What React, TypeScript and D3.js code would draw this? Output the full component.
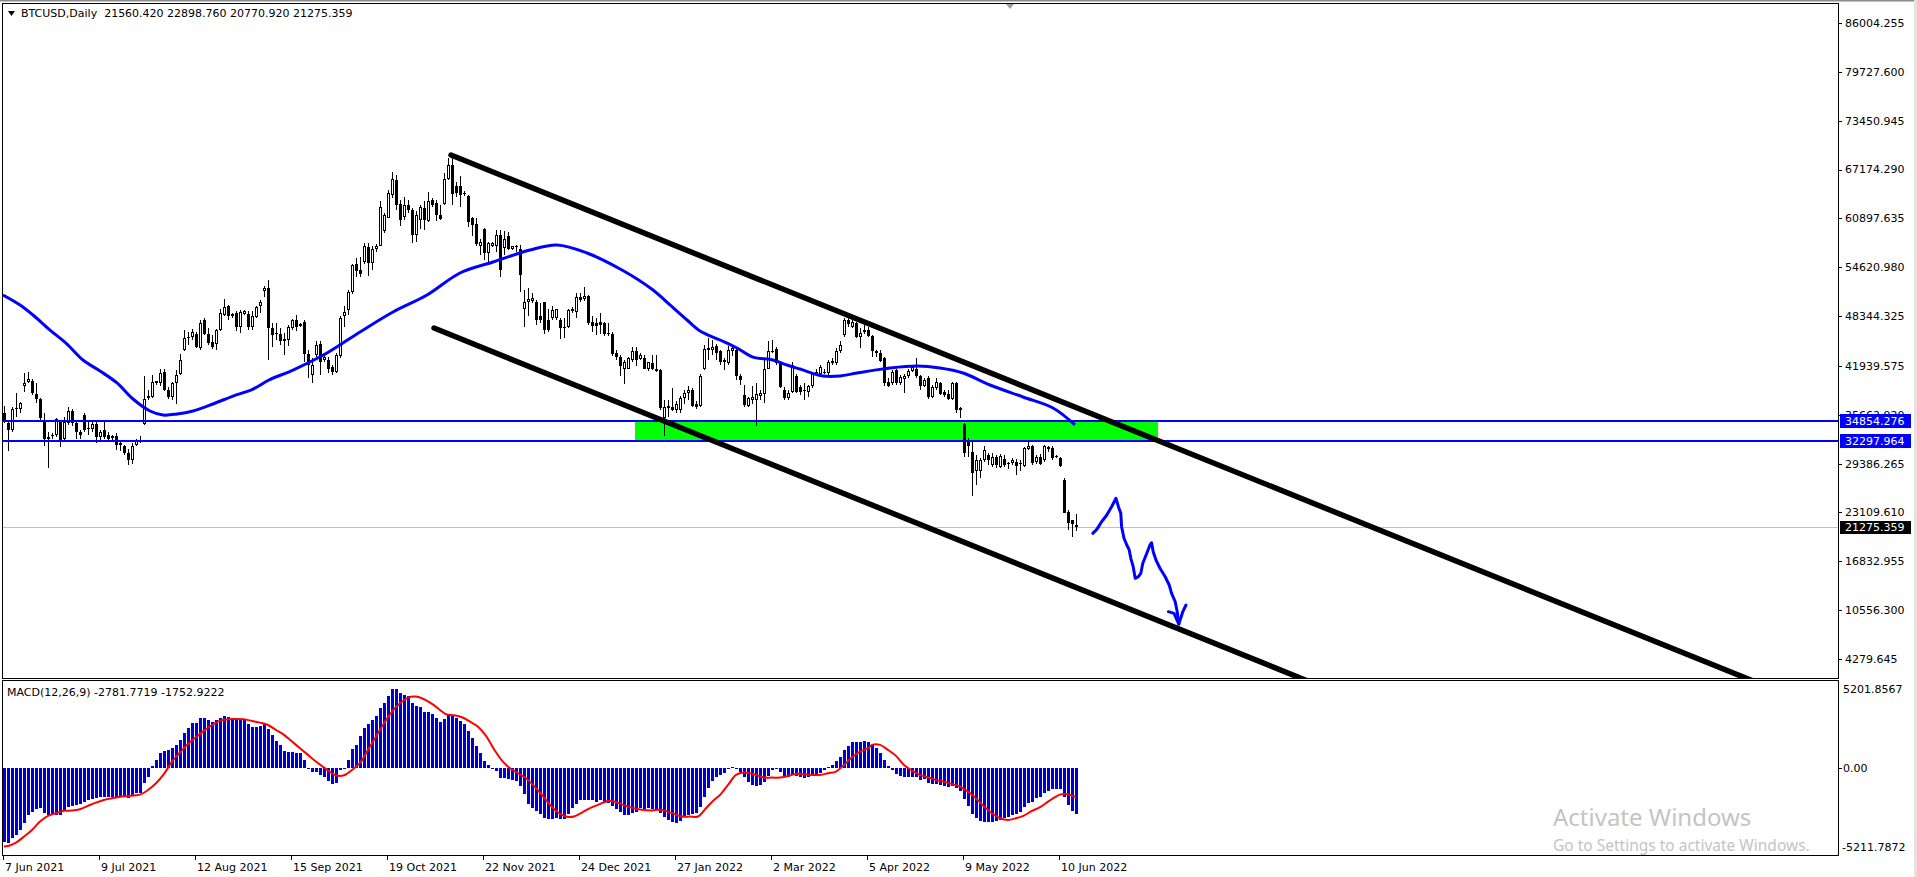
import React from 'react';
import * as d3 from 'd3';

const W = 1917;
const H = 877;

// daily candles (weekdays only) from 7 Jun 2021, prices in USD thousands
const opens = [
  35.95, 34.6, 33.7, 36.4, 36.4, 39.3, 39.9, 40.0, 38.3, 37.7,
  35.0, 32.6, 32.9, 33.1, 34.8, 32.5, 34.6, 36.2, 34.6, 33.5,
  35.6, 33.9, 33.8, 34.5, 32.8, 33.7, 33.1, 32.7, 32.9, 32.0,
  31.6, 30.7, 29.9, 31.8, 32.3, 34.5, 37.8, 38.0, 39.7, 39.7,
  41.1, 38.9, 38.0, 39.8, 40.9, 44.0, 45.5, 45.6, 46.0, 44.2,
  47.9, 46.1, 45.0, 44.7, 46.6, 48.5, 49.6, 48.3, 48.8, 47.0,
  48.6, 48.6, 46.9, 48.2, 49.6, 51.6, 51.9, 46.8, 46.2, 46.1,
  45.4, 45.3, 46.8, 47.9, 47.1, 47.6, 43.5, 40.8, 43.4, 44.8,
  42.7, 42.7, 41.8, 41.2, 43.2, 48.4, 49.1, 51.4, 55.0, 54.3,
  55.3, 57.2, 55.2, 56.9, 57.4, 59.3, 61.0, 63.9, 65.8, 62.8,
  61.1, 62.6, 62.0, 58.8, 60.7, 62.2, 60.5, 63.2, 62.9, 61.3,
  62.8, 66.0, 67.8, 65.0, 65.0, 64.2, 63.8, 60.9, 60.2, 57.3,
  59.5, 56.4, 57.4, 57.4, 58.8, 57.1, 58.6, 56.9, 57.3, 56.9,
  49.2, 50.1, 50.3, 50.1, 48.3, 50.1, 47.8, 48.1, 48.1, 47.8,
  47.0, 47.0, 49.0, 48.9, 50.8, 50.6, 50.9, 47.6, 47.4, 47.6,
  47.4, 46.2, 46.1, 43.6, 43.1, 41.6, 41.6, 42.7, 43.8, 42.8,
  42.9, 41.5, 42.3, 41.6, 41.4, 35.2, 36.5, 36.6, 36.3, 36.3,
  37.8, 38.4, 38.9, 37.1, 36.8, 41.5, 44.0, 44.0, 44.5, 43.8,
  42.7, 42.3, 43.9, 44.0, 40.7, 38.2, 36.8, 37.5, 37.5, 38.1,
  38.3, 41.6, 43.7, 44.1, 42.3, 38.9, 37.8, 38.6, 40.6, 39.2,
  38.8, 38.6, 39.3, 40.8, 40.9, 41.0, 41.0, 42.3, 42.3, 43.8,
  45.9, 47.9, 47.0, 47.4, 45.7, 46.3, 46.5, 45.8, 43.9, 43.65,
  42.9, 39.9, 39.7, 41.4, 39.8, 40.2, 40.6, 41.3, 41.5, 40.65,
  39.4, 40.35, 38.0, 39.1, 39.8, 38.6, 38.3, 37.7, 39.8, 36.5,
  34.5, 32.4, 30.9, 28.4, 28.5, 29.9, 30.5, 29.2, 30.3, 29.0,
  29.95, 29.5, 29.45, 29.65, 29.4, 29.1, 31.2, 31.6, 29.65, 30.3,
  29.8, 31.2, 31.4, 30.4, 30.1, 27.3, 23.2, 22.1, 21.56042,
];
const highs = [
  36.8, 34.8, 36.7, 38.4, 37.3, 41.0, 41.2, 40.3, 39.7, 37.8,
  35.9, 33.4, 33.3, 35.2, 35.0, 35.4, 36.7, 36.4, 34.7, 33.7,
  35.9, 35.0, 35.0, 34.7, 33.7, 34.8, 33.4, 33.0, 33.3, 32.4,
  31.8, 31.2, 32.0, 32.6, 32.9, 40.6, 38.9, 40.8, 40.0, 41.6,
  41.6, 39.2, 39.9, 41.4, 43.5, 46.6, 46.3, 46.7, 46.3, 47.9,
  48.1, 46.8, 45.9, 46.7, 49.3, 50.5, 49.8, 48.8, 49.0, 49.1,
  49.1, 49.0, 49.0, 49.6, 50.4, 52.2, 53.0, 47.5, 47.4, 46.8,
  46.2, 47.2, 48.0, 48.5, 47.5, 47.9, 44.0, 42.9, 45.1, 45.1,
  43.4, 43.1, 42.1, 43.6, 48.3, 49.6, 51.7, 55.1, 55.8, 56.0,
  57.7, 57.7, 57.3, 57.6, 63.1, 61.6, 64.5, 66.9, 66.5, 63.3,
  63.7, 63.3, 62.2, 61.8, 62.6, 63.1, 64.3, 63.5, 63.3, 62.6,
  66.7, 68.6, 69.0, 65.6, 66.4, 64.4, 63.9, 61.1, 60.9, 58.3,
  59.6, 57.9, 57.9, 59.4, 59.4, 59.3, 59.2, 57.4, 57.5, 57.5,
  51.7, 51.9, 51.3, 50.4, 50.0, 50.2, 49.3, 49.6, 49.3, 48.1,
  48.1, 49.3, 49.5, 51.3, 51.3, 52.1, 51.1, 48.3, 48.1, 48.7,
  47.6, 47.5, 46.3, 44.0, 43.4, 42.7, 43.1, 44.4, 44.4, 43.6,
  43.4, 42.5, 43.4, 43.4, 41.5, 37.6, 37.6, 39.1, 37.4, 38.1,
  38.9, 39.3, 39.1, 37.4, 40.9, 44.6, 45.5, 45.3, 44.8, 44.0,
  42.9, 44.5, 44.5, 44.2, 40.9, 39.5, 38.0, 39.3, 39.7, 38.9,
  42.7, 45.1, 45.3, 44.4, 42.5, 39.2, 38.9, 42.5, 40.9, 39.5,
  39.7, 39.5, 41.2, 41.6, 42.1, 41.5, 42.7, 42.9, 44.2, 45.1,
  48.1, 48.3, 48.1, 47.6, 46.8, 47.2, 47.0, 45.9, 44.0, 44.0,
  43.1, 40.35, 41.4, 41.6, 40.8, 40.9, 41.6, 42.1, 42.9, 40.8,
  40.35, 40.65, 39.5, 40.35, 39.9, 38.9, 38.85, 39.9, 39.9, 36.6,
  34.6, 32.65, 32.4, 30.5, 30.1, 31.6, 30.7, 30.7, 30.5, 30.6,
  30.5, 29.65, 30.1, 29.95, 29.9, 31.5, 32.2, 31.8, 30.5, 30.6,
  31.8, 31.6, 31.6, 30.5, 30.3, 27.5, 23.45, 22.2, 22.89876,
];
const lows = [
  34.6, 31.0, 33.5, 35.4, 35.9, 38.6, 39.7, 38.2, 37.2, 35.0,
  31.6, 28.8, 32.6, 32.8, 31.5, 32.4, 34.4, 34.2, 32.6, 32.5,
  33.5, 33.1, 33.5, 32.0, 32.2, 32.5, 32.1, 32.3, 31.1, 31.0,
  30.5, 29.2, 29.4, 31.6, 32.0, 34.4, 37.6, 37.8, 39.5, 39.3,
  38.7, 37.7, 37.6, 37.1, 40.8, 43.8, 44.6, 45.3, 44.2, 44.0,
  45.9, 44.6, 44.1, 44.0, 46.4, 48.3, 47.9, 48.1, 46.4, 46.2,
  48.5, 46.6, 46.6, 48.1, 48.7, 50.8, 42.7, 44.4, 45.3, 44.6,
  43.4, 44.5, 46.6, 46.4, 47.0, 42.4, 40.4, 39.7, 43.1, 40.8,
  42.4, 41.0, 40.8, 41.0, 43.0, 47.0, 48.5, 51.2, 53.4, 53.4,
  55.1, 53.5, 54.3, 56.6, 57.3, 59.0, 60.9, 63.5, 62.0, 59.9,
  60.7, 61.6, 57.7, 57.9, 59.5, 59.4, 60.4, 62.4, 60.5, 60.7,
  62.6, 65.8, 62.6, 63.7, 62.4, 63.8, 59.8, 58.6, 57.3, 56.2,
  55.6, 55.3, 57.2, 56.6, 53.4, 56.2, 56.8, 56.8, 56.6, 51.5,
  47.0, 48.3, 50.0, 47.2, 47.4, 46.1, 46.3, 47.8, 47.8, 45.4,
  45.5, 46.8, 48.7, 48.1, 50.2, 50.3, 47.2, 46.3, 45.9, 46.1,
  45.8, 45.8, 43.2, 42.7, 40.6, 39.6, 41.5, 42.5, 41.9, 42.7,
  41.5, 41.3, 41.4, 41.2, 36.3, 32.9, 35.4, 36.1, 35.9, 35.9,
  37.1, 37.6, 36.7, 36.4, 36.7, 41.4, 42.7, 43.4, 42.7, 42.1,
  41.4, 42.1, 43.2, 40.1, 39.5, 36.7, 36.6, 37.1, 34.2, 37.6,
  37.2, 41.5, 43.6, 42.0, 39.1, 37.6, 37.6, 38.4, 38.4, 38.2,
  37.6, 38.0, 39.1, 40.6, 40.8, 40.9, 40.8, 42.1, 42.1, 43.6,
  45.7, 47.0, 46.8, 45.5, 44.2, 46.1, 45.7, 43.1, 43.1, 42.4,
  39.4, 39.2, 39.5, 39.5, 39.5, 38.5, 40.35, 41.2, 40.35, 38.9,
  39.2, 37.7, 37.8, 38.9, 38.2, 38.0, 37.5, 37.6, 35.9, 35.2,
  30.3, 30.3, 25.2, 26.6, 27.5, 29.65, 29.2, 29.0, 28.8, 28.8,
  29.0, 28.7, 29.2, 27.9, 28.4, 29.0, 31.1, 29.2, 29.4, 29.2,
  29.65, 30.9, 29.9, 30.1, 29.0, 23.0, 20.9, 19.9, 20.77092,
];
const closes = [
  34.8, 33.7, 36.4, 36.5, 37.2, 39.8, 40.3, 38.4, 37.7, 35.3,
  32.6, 32.8, 33.1, 35.1, 32.1, 34.7, 36.1, 34.6, 33.4, 33.1,
  33.7, 34.0, 34.5, 32.8, 33.5, 32.8, 32.6, 32.9, 31.8, 31.8,
  30.7, 29.9, 31.7, 32.4, 32.4, 37.7, 38.1, 39.9, 40.0, 41.0,
  38.8, 38.0, 39.7, 40.8, 42.7, 45.5, 45.6, 46.3, 44.4, 47.5,
  46.1, 44.9, 44.4, 46.6, 48.7, 49.5, 48.3, 48.6, 46.9, 48.9,
  49.0, 46.9, 48.3, 49.5, 50.1, 51.9, 46.8, 45.9, 46.1, 45.1,
  45.1, 46.9, 47.9, 47.0, 47.3, 43.5, 42.1, 42.1, 44.6, 42.4,
  43.1, 41.6, 41.1, 43.4, 48.1, 48.9, 51.4, 54.9, 54.1, 53.8,
  57.3, 55.2, 56.9, 57.3, 62.3, 61.3, 64.2, 65.9, 62.6, 60.7,
  62.6, 62.0, 58.8, 61.3, 62.3, 60.7, 63.1, 62.6, 61.3, 60.8,
  66.0, 67.8, 64.0, 64.1, 63.9, 64.0, 60.4, 60.1, 57.6, 57.9,
  56.4, 57.7, 57.7, 58.8, 54.3, 58.3, 56.9, 57.3, 57.2, 53.6,
  50.2, 50.5, 50.7, 47.8, 47.8, 46.6, 46.6, 49.1, 49.2, 46.8,
  46.8, 49.1, 49.2, 50.8, 50.4, 50.9, 47.4, 47.1, 47.1, 47.2,
  46.1, 46.0, 43.5, 43.1, 41.9, 42.4, 42.9, 43.8, 42.7, 43.4,
  41.6, 42.4, 41.6, 41.3, 36.5, 36.7, 36.8, 36.3, 37.1, 37.8,
  38.4, 38.9, 36.8, 36.6, 40.6, 44.1, 44.2, 44.4, 43.6, 42.5,
  42.4, 44.0, 44.2, 40.6, 40.1, 36.9, 37.8, 38.0, 38.3, 38.4,
  41.6, 43.9, 43.9, 42.3, 39.2, 37.8, 38.4, 42.1, 38.6, 38.6,
  38.9, 39.4, 40.9, 41.2, 41.85, 41.2, 42.5, 42.6, 43.9, 44.6,
  47.9, 47.3, 47.6, 45.7, 46.2, 46.6, 45.8, 43.8, 43.65, 42.6,
  39.8, 39.4, 41.2, 39.7, 40.5, 40.65, 41.3, 41.85, 40.6, 39.4,
  40.1, 38.0, 39.2, 39.9, 38.3, 38.2, 37.7, 39.7, 36.3, 36.3,
  30.8, 31.6, 28.15, 29.8, 29.9, 31.1, 29.9, 30.3, 29.2, 30.4,
  29.2, 29.3, 29.8, 29.1, 29.5, 31.4, 31.6, 29.5, 30.3, 29.35,
  31.6, 31.5, 30.1, 30.3, 29.1, 23.1, 21.8, 21.65, 21.275359,
];

// blue moving average, read at these bar positions (USD thousands)
const maBars = [
  -0.25, 4, 7.25, 11.5, 15.75, 19.75, 24, 28.25, 32.25, 36.5, 39.75, 43.25, 47.25,
  52.25, 57.25, 62.25, 66.25, 72.25, 80.75, 89, 97.25, 105.75, 114, 122.25, 131.5,
  138.25, 145.75, 154.5, 162.25, 166.5, 170.75, 174, 179, 183.25, 187.25, 192.25,
  195.75, 199, 204.75, 209, 213.25, 221.5, 228.25, 234, 239.75, 246.5, 254.75,
  262.25, 267.75,
];
const maValues = [
  51.05, 49.77, 48.48, 46.55, 44.75, 42.7, 41.29, 39.75, 37.69, 36.15, 35.63, 35.76, 36.15,
  37.05, 38.07, 38.97, 40.13, 41.41, 43.6, 46.3, 48.87, 51.05, 53.88, 55.29, 56.83,
  57.48, 56.45, 54.26, 51.69, 49.77, 47.84, 46.43, 45.27, 44.24, 43.08, 42.7,
  42.06, 41.54, 40.64, 40.64, 41.03, 41.67, 41.93, 41.67, 41.03, 39.49, 37.95,
  36.53, 34.35,
];

// MACD(12,26,9) histogram, one value per bar
const macdHist = [
  -4450, -4470, -4210, -4010, -3710, -3310, -2810, -2610, -2470, -2410,
  -2670, -2810, -2750, -2810, -2810, -2550, -2350, -2270, -2210, -2150,
  -2010, -1910, -1860, -1810, -1760, -1720, -1720, -1720, -1720, -1720,
  -1760, -1800, -1680, -1520, -1480, -880, -520, 120, 480, 920,
  1040, 1080, 1180, 1380, 1680, 2110, 2370, 2710, 2710, 2970,
  2970, 2870, 2770, 2870, 2970, 3110, 3070, 2970, 2910, 2870,
  2910, 2630, 2470, 2470, 2510, 2710, 2310, 1970, 1640, 1380,
  1040, 980, 980, 920, 880, 480, -20, -220, -220, -420,
  -560, -760, -960, -880, -120, -20, 480, 1120, 1380, 1910,
  2370, 2630, 2870, 3110, 3570, 3910, 4310, 4710, 4710, 4470,
  4390, 4310, 3870, 3710, 3630, 3350, 3350, 3210, 2970, 2750,
  2910, 3170, 3110, 2970, 2830, 2630, 2210, 1780, 1320, 880,
  420, 160, -80, -160, -620, -620, -680, -720, -780, -1080,
  -1560, -2150, -2410, -2550, -2750, -3010, -3070, -3070, -3010, -3070,
  -3070, -2750, -2410, -2150, -1910, -1950, -1950, -1950, -2010, -1950,
  -2110, -2110, -2270, -2470, -2610, -2810, -2810, -2670, -2610, -2410,
  -2470, -2410, -2470, -2470, -2710, -2950, -3110, -3210, -3270, -3150,
  -2870, -2810, -2750, -2710, -2350, -1720, -1220, -760, -520, -420,
  -280, -80, 80, -20, -260, -560, -820, -1020, -1080, -1020,
  -820, -480, -120, -20, -220, -520, -560, -420, -480, -520,
  -620, -560, -420, -360, -280, -120, 80, 160, 440, 640,
  1080, 1320, 1560, 1560, 1560, 1620, 1560, 1380, 1180, 920,
  480, 120, -120, -360, -480, -520, -520, -520, -560, -720,
  -680, -880, -960, -960, -1020, -1080, -1160, -1080, -1220, -1360,
  -1840, -2270, -2750, -3010, -3150, -3210, -3210, -3210, -3150, -3110,
  -3010, -2950, -2810, -2750, -2610, -2350, -2080, -2010, -1820, -1760,
  -1520, -1360, -1280, -1240, -1240, -1720, -2210, -2550, -2782,
];

// MACD signal line, read at these bar positions
const signalBars = [
  0, 1, 3, 5, 7, 9, 11, 13, 15, 17, 19, 21, 23, 25, 27, 29, 31, 33, 34, 36, 38, 40,
  42, 44, 46, 48, 50, 52, 54, 56, 58, 60, 62, 64, 66, 68, 70, 72, 74, 76, 78, 80, 82,
  83.2, 85, 87, 89, 91, 93, 95, 97, 99, 101, 103, 105, 107, 109, 110.5, 112.5, 114.5,
  116.5, 118.5, 120.5, 122.5, 124.5, 126.5, 128.5, 130.5, 132.5, 134.5, 136.5, 138.5,
  140.5, 142.5, 144.5, 146.5, 148.5, 150.5, 151.5, 153.5, 155.5, 157.5, 159.5, 161.5,
  163.5, 165.5, 167.5, 169.5, 171.5, 173.5, 175.5, 177.5, 179, 181, 183, 185, 188,
  190, 192, 194, 196, 198, 200, 202, 204, 206, 208, 210, 212, 214, 216, 217, 219, 221,
  223, 225, 227, 229, 231, 233, 235, 237, 239, 241, 243, 245, 247, 249, 251, 253, 255,
  257, 259, 261, 263, 264, 266, 268,
];
const signalValues = [
  -4700, -4670, -4470, -4110, -3710, -3210, -2870, -2710, -2570, -2550, -2470, -2270,
  -2080, -1920, -1820, -1720, -1680, -1640, -1600, -1320, -920, -360,
  380, 920, 1440, 1840, 2230, 2570, 2830, 2910, 2930, 2910, 2810, 2710, 2570, 2270,
  1980, 1580, 1180, 780, 380, 20, -320,
  -460, -440, -120, 300, 1080, 1880, 2670, 3370, 3870, 4210, 4270, 4110, 3830, 3470,
  3210, 3150, 3030,
  2770, 2470, 1920, 1120, 440, -20, -320, -620, -1080, -1620, -2210, -2670,
  -2910, -2910, -2670, -2410, -2210, -2010, -1960, -2080, -2270, -2410, -2510, -2550,
  -2510, -2570, -2750, -2910, -2910, -2910, -2410, -1920, -1620, -1020, -420, -280, -420,
  -580, -580, -580, -480, -360, -380, -420, -420, -320, -220, 180, 640, 980, 1180, 1380,
  1380, 1080,
  720, 180, -160, -420, -560, -720, -820, -960, -1120, -1420, -1820, -2310, -2710,
  -3010, -3110, -3010, -2850,
  -2570, -2350, -2020, -1720, -1600, -1580, -1753,
];

const priceTicks = [
  86004.255, 79727.6, 73450.945, 67174.29, 60897.635, 54620.98, 48344.325,
  41939.575, 35662.92, 29386.265, 23109.61, 16832.955, 10556.3, 4279.645,
];
const macdTicks = ['5201.8567', '0.00', '-5211.7872'];

const dateBars = [0, 24, 48, 72, 96, 120, 144, 168, 192, 216, 240, 264];
const dateLabels = [
  '7 Jun 2021', '9 Jul 2021', '12 Aug 2021', '15 Sep 2021', '19 Oct 2021', '22 Nov 2021',
  '24 Dec 2021', '27 Jan 2022', '2 Mar 2022', '5 Apr 2022', '9 May 2022', '10 Jun 2022',
];

// drawn objects
const levels = [34854.276, 32297.964];
const lastPrice = 21275.359;
const zoneBars = [157.75, 288.5];
const channelUpper = { bars: [111.75, 268], prices: [69.04, 36.6] };
const channelLower = { bars: [107.5, 268], prices: [46.81, 13.48] };
const arrowBars = [
  272.2, 273.2, 274.4, 275.7, 276.9, 278.0, 278.6, 279.2, 279.4, 280.0, 280.7, 281.3,
  281.7, 282.3, 282.8, 283.6, 284.2, 284.7, 285.7, 286.5, 286.9, 287.3, 288.0, 289.0,
  290.3, 291.3, 291.9, 292.8, 293.3, 293.7,
];
const arrowPrices = [
  20.43, 20.94, 21.92, 22.78, 23.85, 24.93, 23.85, 23.0, 21.28, 19.79, 18.93, 18.29,
  17.22, 16.14, 14.65, 14.86, 15.29, 16.58, 17.86, 18.93, 19.22, 18.07, 17.0, 15.93,
  14.85, 13.79, 12.72, 11.64, 10.36, 8.77,
];
const arrowHeadBars = [291.1, 292.5, 293.7, 294.7, 295.5];
const arrowHeadPrices = [10.36, 10.15, 8.77, 10.36, 11.22];

const FONT = 'DejaVu Sans, Verdana, sans-serif';

const App: React.FC = () => {
  const plot = { left: 2, right: 1838, top: 3, bottom: 678 };
  const sub = { top: 681, bottom: 855 };

  const x = d3.scaleLinear().domain([0, 458.5]).range([4, plot.right]);
  const y = d3.scaleLinear().domain([4279.645, 86004.255]).range([659, 23]);
  const py = (k: number) => y(k * 1000);
  const my = d3.scaleLinear().domain([-5211.7872, 5201.8567]).range([sub.bottom, sub.top]);

  const maLine = d3
    .line<number>()
    .x((_, i) => x(maBars[i]))
    .y(d => py(d))
    .curve(d3.curveCatmullRom.alpha(0.5));

  const signalLine = d3
    .line<number>()
    .x((_, i) => x(signalBars[i]))
    .y(d => my(d))
    .curve(d3.curveCatmullRom.alpha(0.5));

  const arrowLine = d3
    .line<number>()
    .x((_, i) => x(arrowBars[i]))
    .y(d => py(d));
  const arrowHead = d3
    .line<number>()
    .x((_, i) => x(arrowHeadBars[i]))
    .y(d => py(d));

  // channel ray, extended far to the right and clipped by the plot
  const ray = (c: { bars: number[]; prices: number[] }) => {
    const slope = (c.prices[1] - c.prices[0]) / (c.bars[1] - c.bars[0]);
    const endBar = 470;
    return {
      x1: x(c.bars[0]),
      y1: py(c.prices[0]),
      x2: x(endBar),
      y2: py(c.prices[0] + slope * (endBar - c.bars[0])),
    };
  };
  const up = ray(channelUpper);
  const lo = ray(channelLower);

  const zero = my(0);

  return (
    <div style={{ position: 'absolute', left: 0, top: 0 }}>
      <svg width={W} height={H} style={{ display: 'block', background: '#fff' }}>
        <defs>
          <clipPath id="mainClip">
            <rect x={plot.left + 1} y={plot.top + 1} width={plot.right - plot.left - 1} height={plot.bottom - plot.top - 1} />
          </clipPath>
        </defs>
        <rect x={0} y={0} width={W} height={H} fill="#fff" />
        <rect x={0} y={0} width={W} height={1.5} fill="#8a8a8a" />
        <rect x={W - 3} y={0} width={3} height={H} fill="#e3e3e3" />

        <g clipPath="url(#mainClip)">
          {/* current price line */}
          <line x1={plot.left} x2={plot.right} y1={Math.round(y(lastPrice)) + 0.5} y2={Math.round(y(lastPrice)) + 0.5} stroke="#c0c0c0" strokeWidth={1} />

          {/* green zone */}
          <rect
            x={x(zoneBars[0])}
            y={y(levels[0])}
            width={x(zoneBars[1]) - x(zoneBars[0])}
            height={y(levels[1]) - y(levels[0])}
            fill="#00ff00"
          />

          {/* candles */}
          <g shapeRendering="crispEdges">
            {closes.map((c, i) => {
              const o = opens[i];
              const cx = Math.round(x(i));
              const yH = Math.round(py(highs[i]));
              const yL = Math.round(py(lows[i]));
              const yO = Math.round(py(o));
              const yC = Math.round(py(c));
              const top = Math.min(yO, yC);
              const bot = Math.max(yO, yC);
              const bull = c >= o;
              return (
                <g key={i}>
                  <rect x={cx} y={yH} width={1} height={Math.max(1, yL - yH)} fill="#000" />
                  {bull && bot - top >= 2 ? (
                    <rect x={cx - 0.5} y={top + 0.5} width={2} height={bot - top - 1} fill="#fff" stroke="#000" strokeWidth={1} />
                  ) : (
                    <rect x={cx - 1} y={top} width={3} height={Math.max(1, bot - top)} fill="#000" />
                  )}
                </g>
              );
            })}
          </g>

          {/* moving average */}
          <path d={maLine(maValues) || ''} fill="none" stroke="#0000ff" strokeWidth={3} />

          {/* horizontal levels */}
          {levels.map(l => (
            <line key={l} x1={plot.left} x2={plot.right} y1={y(l)} y2={y(l)} stroke="#0000ff" strokeWidth={2} />
          ))}

          {/* channel */}
          <line {...up} stroke="#000" strokeWidth={5.5} strokeLinecap="round" />
          <line {...lo} stroke="#000" strokeWidth={5.5} strokeLinecap="round" />

          {/* hand drawn arrow */}
          <path d={arrowLine(arrowPrices) || ''} fill="none" stroke="#0000ff" strokeWidth={3} strokeLinejoin="round" strokeLinecap="round" />
          <path d={arrowHead(arrowHeadPrices) || ''} fill="none" stroke="#0000ff" strokeWidth={3} strokeLinejoin="round" strokeLinecap="round" />
        </g>

        {/* shift marker */}
        <path d={`M${x(251.5) - 4},${plot.top + 1}L${x(251.5) + 4},${plot.top + 1}L${x(251.5)},${plot.top + 6}Z`} fill="#a0a0a0" />

        {/* frames */}
        <rect x={plot.left + 0.5} y={plot.top + 0.5} width={plot.right - plot.left} height={plot.bottom - plot.top} fill="none" stroke="#000" />
        <rect x={plot.left + 0.5} y={sub.top - 0.5} width={plot.right - plot.left} height={sub.bottom - sub.top + 1} fill="none" stroke="#000" />

        {/* header */}
        <path d="M8,11L15,11L11.5,16Z" fill="#000" />
        <text x={21} y={17} fontFamily={FONT} fontSize={11} fill="#000" style={{ whiteSpace: 'pre' }}>
          {'BTCUSD,Daily  21560.420 22898.760 20770.920 21275.359'}
        </text>

        {/* price axis */}
        <g fontFamily={FONT} fontSize={11} fill="#000">
          {priceTicks.map(t => (
            <g key={t}>
              <line x1={plot.right} x2={plot.right + 4} y1={Math.round(y(t)) + 0.5} y2={Math.round(y(t)) + 0.5} stroke="#000" />
              <text x={plot.right + 7} y={y(t)} dy="0.36em">
                {t.toFixed(3)}
              </text>
            </g>
          ))}
        </g>
        {levels.map(l => (
          <g key={l}>
            <rect x={plot.right + 2} y={Math.round(y(l)) - 7} width={71} height={14} fill="#0000ff" />
            <text x={plot.right + 7} y={y(l)} dy="0.36em" fontFamily={FONT} fontSize={11} fill="#fff">
              {l.toFixed(3)}
            </text>
          </g>
        ))}
        <rect x={plot.right + 2} y={Math.round(y(lastPrice)) - 6} width={71} height={13} fill="#000" />
        <text x={plot.right + 7} y={y(lastPrice)} dy="0.36em" fontFamily={FONT} fontSize={11} fill="#fff">
          {lastPrice.toFixed(3)}
        </text>

        {/* MACD */}
        <g shapeRendering="crispEdges">
          {macdHist.map((v, i) => {
            const bx = Math.round(x(i)) - 1;
            const yv = my(v);
            const y0 = Math.min(yv, zero);
            return <rect key={i} x={bx} y={y0} width={3} height={Math.max(1, Math.abs(yv - zero))} fill="#0000d2" />;
          })}
        </g>
        <path d={signalLine(signalValues) || ''} fill="none" stroke="#ff0000" strokeWidth={2} />
        <text x={7} y={696} fontFamily={FONT} fontSize={11} fill="#000">
          MACD(12,26,9) -2781.7719 -1752.9222
        </text>
        <g fontFamily={FONT} fontSize={11} fill="#000">
          <text x={plot.right + 5} y={sub.top + 8} dy="0.36em">{macdTicks[0]}</text>
          <line x1={plot.right} x2={plot.right + 4} y1={Math.round(zero) + 0.5} y2={Math.round(zero) + 0.5} stroke="#000" />
          <text x={plot.right + 5} y={zero} dy="0.36em">{macdTicks[1]}</text>
          <text x={plot.right + 4} y={sub.bottom - 8} dy="0.36em">{macdTicks[2]}</text>
        </g>

        {/* time axis */}
        <g fontFamily={FONT} fontSize={11} fill="#000">
          {dateBars.map((b, i) => (
            <g key={b}>
              <line x1={Math.round(x(b)) - 0.5} x2={Math.round(x(b)) - 0.5} y1={sub.bottom} y2={sub.bottom + 5} stroke="#000" />
              <text x={x(b) + 1} y={871}>
                {dateLabels[i]}
              </text>
            </g>
          ))}
        </g>

        {/* watermark */}
        <text x={1553} y={826} fontFamily="Noto Sans, Open Sans, sans-serif" fontSize={24} fill="#c4c4c4">
          Activate Windows
        </text>
        <text x={1553} y={851} fontFamily="Noto Sans, Open Sans, sans-serif" fontSize={15.5} fill="#c4c4c4">
          Go to Settings to activate Windows.
        </text>
      </svg>
    </div>
  );
};

export default App;
